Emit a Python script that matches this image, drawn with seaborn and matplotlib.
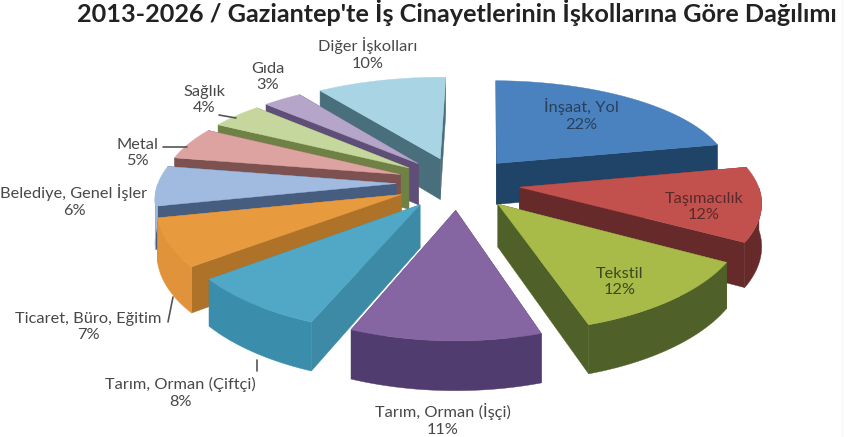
#!/usr/bin/env python3
import numpy as np
import matplotlib
matplotlib.use("Agg")
import matplotlib.pyplot as plt
import seaborn as sns

TITLE = "2013-2026 / Gaziantep'te İş Cinayetlerinin İşkollarına Göre Dağılımı"

# dilimler, saat yönünde, tepeden başlayarak
labels = ["İnşaat, Yol", "Taşımacılık", "Tekstil", "Tarım, Orman (İşçi)",
          "Tarım, Orman (Çiftçi)", "Ticaret, Büro, Eğitim", "Belediye, Genel İşler",
          "Metal", "Sağlık", "Gıda", "Diğer İşkolları"]
values = [22, 12, 12, 11, 8, 7, 6, 5, 4, 3, 10]

top_colors = ["#4a82bf", "#c2514e", "#a8ba48", "#8566a3", "#50a8c6", "#e89b3e",
              "#a0bae0", "#dca3a1", "#c5d79c", "#b5a5c9", "#a9d4e4"]
rim_colors = ["#1f4468", "#662a2a", "#4f6128", "#503c6e", "#3a8dab", "#e0933a",
              "#a0bae0", "#dca3a1", "#c5d79c", "#b5a5c9", "#a9d4e4"]
side_colors = ["#1f4468", "#662a2a", "#4f6128", "#4f3a6c", "#3d8aa6", "#ae7229",
               "#475d80", "#7d5150", "#6f8145", "#5f4f78", "#4a6f7c"]

label_pos = [(581, 115), (704, 207), (620, 282), (443, 420), (180, 393), (88, 327),
             (74, 201), (137, 153), (204, 100), (268, 77), (368, 54)]
label_colors = ["#2a3f5a", "#5a2a2a", "#3a4a20"] + ["#484848"] * 8
leaders = [[(219, 115), (236, 118)], [(163, 147), (187, 147)],
           [(168, 322), (173, 297)], [(257, 360), (257, 371)]]

# izdüşüm ayarları
CX, CY = 458, 183
RX, RY = 238, 101
DIST_X, DIST_Y = 8.0, 6.5
EXPLODE = 0.26
DEPTH = 42
START = np.radians(1)
WARP = np.radians(-4.5)  # öne doğru açılar biraz kayıyor


def warp(a):
    return a + START + WARP * (1 - np.cos(a)) / 2


def project(x, y, z=0.0):
    sx = DIST_X / (DIST_X + y)
    sy = DIST_Y / (DIST_Y + y)
    return CX + RX * x * sx, CY - RY * y * sy + DEPTH * z * sx


def slice_outline(a0, a1):
    a0, a1 = warp(a0), warp(a1)
    mid = (a0 + a1) / 2
    ox, oy = EXPLODE * np.sin(mid), EXPLODE * np.cos(mid)
    t = np.linspace(a0, a1, 80)
    return ox, oy, t, ox + np.sin(t), oy + np.cos(t)


def wall(ax, xs, ys, color, zorder):
    # verilen kenarın altına aşağı doğru duvar
    px0, py0 = project(xs, ys)
    px1, py1 = project(xs, ys, 1)
    ax.fill(np.r_[px0, px1[::-1]], np.r_[py0, py1[::-1]], color=color, lw=0.3, zorder=zorder)


sns.set_theme(style="white")
plt.rcParams["font.family"] = ["Lato", "DejaVu Sans"]
fig = plt.figure(figsize=(8.44, 4.37), dpi=100)
ax = fig.add_axes([0, 0, 1, 1])
ax.set_xlim(0, 844)
ax.set_ylim(437, 0)
ax.axis("off")

fr = np.cumsum([0] + values) / sum(values) * 2 * np.pi
slices = []
for i in range(len(values)):
    ox, oy, t, ex, ey = slice_outline(fr[i], fr[i + 1])
    slices.append((np.mean(np.r_[oy, ey]), i, ox, oy, t, ex, ey))

# arkadan öne doğru boya
for order, (_, i, ox, oy, t, ex, ey) in enumerate(sorted(slices, key=lambda r: -r[0])):
    z = 2 + order
    wall(ax, np.array([ox, ex[0]]), np.array([oy, ey[0]]), side_colors[i], z)
    wall(ax, np.array([ox, ex[-1]]), np.array([oy, ey[-1]]), side_colors[i], z)
    front = np.cos(t) < 0  # sadece öne bakan dış yüzey görünür
    if front.sum() > 1:
        wall(ax, ex[front], ey[front], rim_colors[i], z)
    tx, ty = project(np.r_[ox, ex], np.r_[oy, ey])
    ax.fill(tx, ty, color=top_colors[i], lw=0.3, zorder=z)

sns.lineplot(x=[841.5, 841.5], y=[0, 437], color="#d8d8d8", lw=1, ax=ax, zorder=1)
for pts in leaders:
    ax.plot(*zip(*pts), color="#555555", lw=1.2, zorder=30)

for name, val, (x, y), col in zip(labels, values, label_pos, label_colors):
    ax.text(x, y, f"{name}\n{val}%", ha="center", va="center", fontsize=11.8,
            color=col, linespacing=1.2, zorder=40)

ax.text(457, 12, TITLE, ha="center", va="center", fontsize=18.2, fontweight="bold",
        color="#222222", zorder=40)

fig.savefig("out.png", dpi=100)
